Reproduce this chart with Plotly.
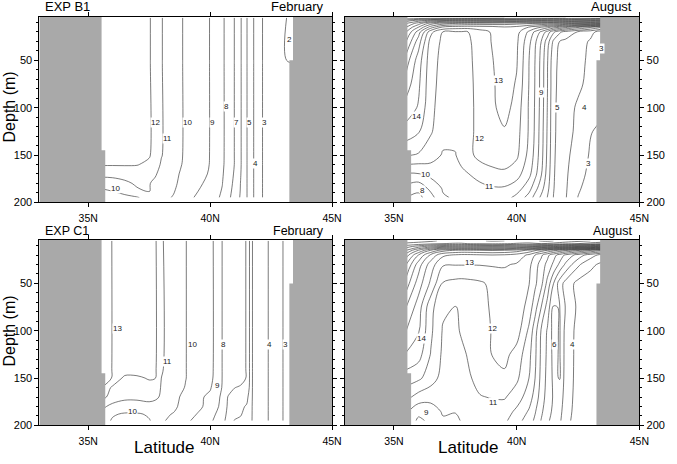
import plotly.graph_objects as go

# ---------------- data ----------------
lat = [35.5, 36.0, 36.5, 37.0, 37.5, 37.75, 38.0, 38.5, 39.0, 39.5, 40.0,
       40.5, 40.75, 41.0, 41.25, 41.5, 41.75, 42.0, 42.5, 43.0, 43.5]

# EXP B1 February
feb_b1_depth = [5, 50, 55, 150, 160, 170, 180, 188, 195]
feb_b1_temp = [
    [12.6, 12.6, 12.55, 12.5, 12.1, 11.6, 11.05, 10.45, 9.85, 9.4, 8.98, 8.15, 7.65, 6.98, 6.1, 5.05, 4.15, 3.15, 2.65, 2.15, 1.6],
    [12.6, 12.6, 12.55, 12.5, 12.1, 11.6, 11.05, 10.45, 9.85, 9.4, 8.98, 8.15, 7.65, 6.98, 6.1, 5.05, 4.15, 3.15, 2.65, 2.15, 1.6],
    [12.6, 12.6, 12.55, 12.5, 12.1, 11.6, 11.05, 10.45, 9.85, 9.4, 8.98, 8.15, 7.65, 6.98, 6.1, 5.05, 4.15, 3.15, 2.65, 2.3, 2.2],
    [12.6, 12.6, 12.55, 12.5, 12.1, 11.6, 11.05, 10.45, 9.85, 9.4, 8.98, 8.15, 7.65, 6.98, 6.1, 5.05, 4.15, 3.15, 2.65, 2.3, 2.2],
    [12.1, 12.1, 12.1, 12.05, 11.8, 11.4, 10.9, 10.4, 9.81, 9.38, 8.97, 8.15, 7.6, 6.98, 6.1, 5.05, 4.15, 3.15, 2.65, 2.3, 2.2],
    [11.2, 11.2, 11.3, 11.5, 11.4, 11.1, 10.7, 10.25, 9.7, 9.35, 8.9, 8.1, 7.5, 6.9, 6.05, 5.05, 4.15, 3.15, 2.65, 2.3, 2.2],
    [10.6, 10.7, 10.85, 11.1, 11.05, 10.8, 10.4, 10.15, 9.65, 9.2, 8.7, 8.02, 7.4, 6.8, 5.98, 5.05, 4.15, 3.15, 2.65, 2.3, 2.2],
    [9.7, 10.02, 10.3, 10.9, 11.05, 10.7, 10.3, 10.05, 9.6, 9.02, 8.45, 7.95, 7.3, 6.7, 5.95, 5.05, 4.15, 3.15, 2.65, 2.3, 2.2],
    [9.5, 9.6, 9.75, 9.9, 10.4, 10.3, 10.2, 9.95, 9.5, 8.74, 8.3, 7.9, 7.2, 6.6, 5.9, 5.05, 4.15, 3.15, 2.65, 2.3, 2.2],
]
feb_b1_label_lat = [43.27, 37.76, 38.27, 39.07, 40.09, 40.68, 41.1, 41.61, 42.24, 41.87, 36.13]
feb_b1_label_depth = [28, 116, 133, 116, 116, 99, 116, 116, 116, 159, 185]
feb_b1_label_text = ["2", "12", "11", "10", "9", "8", "7", "5", "3", "4", "10"]

# EXP B1 August
aug_depth = [5, 8, 11, 15, 20, 30, 50, 75, 100, 125, 150, 170, 185, 195]
aug_b1_temp = [
    [25.0, 25.0, 24.8, 24.6, 24.5, 24.45, 24.4, 24.3, 24.2, 24.0, 23.8, 23.6, 23.5, 23.4, 23.3, 23.2, 23.1, 23.0, 22.8, 22.5, 22.2],
    [22.5, 21.5, 20.5, 20.0, 19.8, 19.75, 19.7, 19.6, 19.5, 19.4, 19.3, 19.1, 19.0, 18.9, 18.8, 18.7, 18.6, 18.5, 18.3, 18.0, 17.7],
    [21.0, 19.5, 17.5, 16.5, 16.0, 15.9, 15.8, 15.7, 15.6, 15.5, 15.3, 15.1, 15.0, 14.9, 14.8, 14.7, 14.5, 14.3, 14.0, 13.6, 13.2],
    [20.0, 18.0, 15.5, 13.8, 13.5, 13.45, 13.4, 13.5, 13.6, 13.9, 13.7, 12.95, 12.5, 12.0, 11.4, 10.6, 10.0, 9.3, 8.2, 7.2, 6.0],
    [19.0, 16.5, 13.3, 11.95, 11.9, 11.9, 11.95, 12.6, 13.1, 13.6, 13.4, 11.8, 10.8, 9.8, 8.6, 7.2, 6.2, 5.6, 4.9, 4.3, 3.5],
    [18.0, 15.5, 12.6, 11.8, 11.6, 11.6, 11.8, 12.5, 13.05, 13.5, 13.2, 11.3, 10.2, 9.0, 7.5, 5.8, 5.0, 4.8, 4.4, 3.9, 2.9],
    [16.5, 14.5, 12.4, 11.7, 11.5, 11.5, 11.75, 12.4, 12.95, 13.5, 13.1, 11.02, 9.98, 8.7, 7.1, 5.3, 4.8, 4.6, 4.3, 3.8, 2.9],
    [15.5, 14.2, 12.3, 11.65, 11.45, 11.45, 11.7, 12.35, 12.85, 13.5, 12.9, 10.98, 9.95, 8.65, 7.05, 5.25, 4.75, 4.5, 4.2, 3.7, 3.1],
    [14.6, 13.9, 12.2, 11.6, 11.4, 11.4, 11.7, 12.3, 12.8, 13.4, 12.6, 10.9, 9.9, 8.6, 6.98, 5.2, 4.7, 4.4, 3.85, 3.4, 3.2],
    [13.6, 13.1, 12.1, 11.4, 11.3, 11.4, 11.7, 12.3, 12.7, 12.9, 12.4, 10.9, 9.85, 8.5, 6.9, 5.2, 4.65, 4.3, 3.8, 3.05, 2.8],
    [12.1, 11.9, 11.5, 10.9, 10.95, 11.4, 11.7, 12.3, 12.5, 12.6, 12.2, 10.7, 9.7, 8.4, 6.8, 5.15, 4.6, 4.2, 3.6, 2.9, 2.7],
    [9.9, 9.95, 10.3, 10.5, 10.6, 10.75, 10.95, 11.4, 11.7, 11.8, 11.4, 10.3, 9.3, 8.1, 6.6, 5.1, 4.55, 4.15, 3.3, 2.8, 2.6],
    [8.7, 8.3, 9.3, 10.1, 10.3, 10.4, 10.5, 10.7, 10.9, 10.9, 10.5, 9.4, 8.4, 7.4, 6.3, 5.05, 4.5, 4.1, 3.1, 2.7, 2.55],
    [8.0, 7.7, 8.6, 9.9, 10.1, 10.2, 10.2, 10.4, 10.5, 10.4, 9.7, 8.6, 7.6, 6.8, 5.98, 4.98, 4.45, 4.05, 2.98, 2.6, 2.5],
]
aug_b1_label_lat = [39.24, 41.03, 41.65, 42.77, 35.93, 38.49, 42.91, 36.29, 38.91, 36.16, 43.44]
aug_b1_label_depth = [71, 84, 100, 100, 109, 133, 159, 171, 183, 188, 37]
aug_b1_label_text = ["13", "9", "5", "4", "14", "12", "3", "10", "11", "8", "3"]

# EXP C1 February
feb_c1_depth = [5, 140, 150, 160, 170, 180, 188, 195]
feb_c1_temp = [
    [13.3, 12.98, 12.8, 12.6, 12.4, 12.15, 11.1, 10.5, 10.02, 9.6, 9.35, 7.98, 7.8, 7.6, 7.3, 6.95, 4.9, 4.5, 3.85, 2.98, 2.7],
    [13.3, 12.98, 12.8, 12.6, 12.4, 12.15, 11.1, 10.5, 10.02, 9.6, 9.35, 7.98, 7.8, 7.6, 7.3, 6.95, 4.9, 4.5, 3.85, 2.98, 2.7],
    [13.2, 12.98, 11.7, 11.8, 12.1, 12.02, 11.0, 10.45, 10.02, 9.55, 9.3, 7.98, 7.8, 7.6, 7.3, 6.95, 4.9, 4.5, 3.85, 2.98, 2.7],
    [13.05, 11.8, 11.4, 11.5, 11.6, 11.7, 10.9, 10.4, 9.95, 9.4, 9.1, 7.95, 7.5, 7.02, 6.9, 6.8, 4.9, 4.5, 3.85, 2.98, 2.7],
    [12.4, 11.6, 11.2, 11.15, 11.2, 11.15, 10.9, 10.3, 9.7, 9.2, 8.8, 7.8, 6.9, 6.7, 6.6, 6.3, 4.9, 4.5, 3.85, 2.98, 2.7],
    [11.3, 10.7, 10.6, 10.7, 10.8, 10.7, 10.4, 10.2, 9.6, 9.2, 8.7, 7.7, 6.8, 6.5, 6.2, 5.9, 4.9, 4.5, 3.85, 2.98, 2.7],
    [10.8, 10.1, 9.9, 9.9, 10.1, 10.4, 10.2, 9.95, 9.4, 8.95, 8.4, 7.5, 6.7, 6.3, 6.05, 5.8, 4.9, 4.5, 3.85, 2.98, 2.7],
    [10.5, 9.9, 9.6, 9.7, 9.95, 10.2, 10.1, 9.8, 9.2, 8.7, 8.2, 7.3, 6.6, 5.95, 5.9, 5.7, 4.9, 4.5, 3.85, 2.98, 2.7],
]
feb_c1_label_lat = [36.2, 38.27, 39.27, 40.57, 42.44, 43.08, 40.31, 36.8]
feb_c1_label_depth = [98, 132, 115, 115, 115, 115, 158, 185]
feb_c1_label_text = ["13", "11", "10", "8", "4", "3", "9", "10"]

# EXP C1 August
aug_c1_temp = [
    [25.6, 25.4, 25.2, 24.8, 24.6, 24.6, 24.7, 24.9, 25.1, 25.0, 24.7, 24.6, 24.8, 25.1, 25.2, 25.0, 24.8, 24.6, 24.3, 24.0, 23.8],
    [24.8, 24.6, 24.3, 24.0, 23.9, 23.9, 24.0, 24.1, 24.2, 24.1, 23.9, 23.8, 23.9, 24.0, 23.9, 23.7, 23.5, 23.3, 23.0, 22.6, 22.2],
    [23.5, 22.5, 21.5, 21.0, 20.8, 20.7, 20.7, 20.8, 20.9, 20.8, 20.5, 20.2, 20.0, 19.8, 19.5, 19.2, 18.9, 18.6, 18.0, 17.4, 16.5],
    [22.0, 20.0, 18.0, 16.5, 16.0, 15.9, 15.9, 16.0, 16.1, 16.0, 15.6, 14.8, 14.2, 13.6, 13.0, 12.4, 11.8, 11.2, 10.2, 9.2, 8.0],
    [20.5, 18.0, 15.8, 14.2, 13.9, 13.8, 13.8, 13.9, 14.0, 13.9, 13.6, 12.8, 12.0, 11.2, 10.3, 9.4, 8.6, 7.8, 6.6, 5.5, 4.6],
    [19.0, 16.5, 14.5, 13.1, 13.05, 13.05, 13.05, 13.05, 13.1, 13.1, 12.9, 12.3, 11.4, 10.6, 9.7, 8.8, 7.8, 6.8, 5.2, 4.2, 3.8],
    [17.5, 15.5, 13.8, 11.9, 11.7, 11.65, 11.7, 11.85, 12.2, 12.5, 12.6, 12.05, 11.2, 10.3, 8.7, 7.02, 5.5, 4.6, 3.7, 3.6, 3.5],
    [16.0, 14.5, 12.3, 11.2, 10.97, 11.1, 11.35, 11.6, 12.15, 12.6, 12.7, 11.6, 10.4, 9.0, 7.6, 5.9, 6.05, 4.9, 3.8, 3.5, 3.4],
    [15.0, 14.1, 12.2, 10.9, 10.8, 11.1, 11.2, 11.6, 12.05, 12.5, 12.5, 10.8, 9.4, 7.9, 6.9, 5.6, 6.1, 4.6, 3.7, 3.4, 3.3],
    [13.9, 13.4, 11.95, 10.8, 10.6, 10.8, 11.05, 11.5, 12.02, 12.3, 11.6, 10.3, 9.2, 7.8, 6.8, 5.7, 6.1, 4.55, 3.7, 3.4, 3.3],
    [12.5, 12.2, 11.5, 10.6, 10.4, 10.5, 10.85, 11.3, 11.7, 11.8, 11.2, 10.0, 9.0, 7.7, 6.7, 5.8, 6.05, 4.5, 3.7, 3.4, 3.3],
    [11.3, 10.6, 10.3, 10.3, 10.2, 10.3, 10.5, 10.95, 11.05, 11.1, 10.5, 9.5, 8.6, 7.5, 6.6, 5.9, 5.7, 4.4, 3.7, 3.4, 3.3],
    [10.2, 9.3, 9.6, 10.1, 10.05, 10.1, 10.3, 10.6, 10.6, 10.5, 9.8, 8.9, 8.1, 7.2, 6.4, 5.8, 5.4, 4.3, 3.7, 3.4, 3.3],
    [9.8, 8.8, 9.2, 9.9, 9.8, 10.05, 10.2, 10.4, 10.4, 10.2, 9.4, 8.5, 7.8, 6.95, 6.2, 5.6, 5.2, 4.2, 3.7, 3.4, 3.3],
]
aug_c1_label_lat = [38.09, 39.03, 36.11, 41.53, 42.29, 39.07, 36.33]
aug_c1_label_depth = [28, 98, 108, 115, 115, 176, 186]
aug_c1_label_text = ["13", "12", "14", "6", "4", "11", "9"]

# coastlines (land outline of the section)
west_land_lat = [33.0, 35.55, 35.55, 35.7, 35.7, 33.0]
west_land_depth = [0, 0, 145, 145, 200, 200]
east_land_lat = [45.0, 43.4, 43.4, 43.25, 43.25, 45.0]
east_land_depth = [0, 0, 50, 50, 200, 200]

x_ticks = [35, 40, 45]
x_ticktext = ["35N", "40N", "45N"]
y_ticks = [50, 100, 150, 200]

panels = [
    dict(depth=feb_b1_depth, temp=feb_b1_temp, xd=[40 / 677, 337 / 677], yd=[1 - 205 / 464, 1 - 17 / 464], side="left",
         lab=(feb_b1_label_lat, feb_b1_label_depth, feb_b1_label_text)),
    dict(depth=aug_depth, temp=aug_b1_temp, xd=[350 / 677, 649 / 677], yd=[1 - 205 / 464, 1 - 17 / 464], side="right",
         lab=(aug_b1_label_lat, aug_b1_label_depth, aug_b1_label_text)),
    dict(depth=feb_c1_depth, temp=feb_c1_temp, xd=[40 / 677, 337 / 677], yd=[1 - 431 / 464, 1 - 243 / 464], side="left",
         lab=(feb_c1_label_lat, feb_c1_label_depth, feb_c1_label_text)),
    dict(depth=aug_depth, temp=aug_c1_temp, xd=[350 / 677, 649 / 677], yd=[1 - 431 / 464, 1 - 243 / 464], side="right",
         lab=(aug_c1_label_lat, aug_c1_label_depth, aug_c1_label_text)),
]

FONT = "Liberation Sans, Arial, sans-serif"
LAND = "#a9a9a9"
LINE = "#333333"

fig = go.Figure()
layout = {}
annotations = []
for i, p in enumerate(panels, start=1):
    sfx = "" if i == 1 else str(i)
    xa, ya = "x" + sfx, "y" + sfx
    fig.add_trace(go.Contour(
        x=lat, y=p["depth"], z=p["temp"], xaxis=xa, yaxis=ya,
        autocontour=False,
        contours=dict(start=2, end=26, size=1, coloring="lines", showlabels=False),
        colorscale=[[0, LINE], [1, LINE]], showscale=False,
        line=dict(width=0.65), hoverinfo="skip"))
    for lx, ly in ((west_land_lat, west_land_depth), (east_land_lat, east_land_depth)):
        fig.add_trace(go.Scatter(x=lx, y=ly, xaxis=xa, yaxis=ya, mode="lines",
                                 fill="toself", fillcolor=LAND, line=dict(width=0, color=LAND),
                                 hoverinfo="skip", showlegend=False))
    for lx, ly, lt in zip(*p["lab"]):
        annotations.append(dict(text=lt, x=lx, y=ly, xref=xa, yref=ya, showarrow=False,
                                xanchor="center", yanchor="middle", bgcolor="white", borderpad=0,
                                font=dict(size=8, family=FONT, color="#222")))
    layout["xaxis" + sfx] = dict(
        domain=p["xd"], anchor=ya, range=[33, 45], tickvals=x_ticks, ticktext=x_ticktext,
        ticks="outside", ticklen=4, tickcolor="black", showline=True, linecolor="black",
        linewidth=1, mirror="allticks", showgrid=False, zeroline=False, ticklabelstandoff=2,
        tickfont=dict(size=10.5, family=FONT, color="black"))
    layout["yaxis" + sfx] = dict(
        domain=p["yd"], anchor=xa, range=[200, 4], tickvals=y_ticks, side=p["side"],
        ticks="outside", ticklen=4, tickcolor="black", showline=True, linecolor="black",
        linewidth=1, mirror="allticks", showgrid=False, zeroline=False,
        minor=dict(dtick=10, tick0=0, ticks="outside", ticklen=2, tickcolor="black", showgrid=False),
        tickfont=dict(size=11, family=FONT, color="black"))


def ann(text, x, y, size, xanchor="center", angle=0):
    return dict(text=text, x=x, y=y, xref="paper", yref="paper", showarrow=False,
                xanchor=xanchor, yanchor="middle", textangle=angle,
                font=dict(size=size, family=FONT, color="black"))


annotations += [
    ann("EXP B1", 44 / 677, 1 - 7 / 464, 13, "left"),
    ann("February", 331 / 677, 1 - 7 / 464, 13, "right"),
    ann("August", 643 / 677, 1 - 7 / 464, 13, "right"),
    ann("EXP C1", 44 / 677, 1 - 234 / 464, 12.5, "left"),
    ann("February", 331 / 677, 1 - 234 / 464, 12.5, "right"),
    ann("August", 643 / 677, 1 - 234 / 464, 12.5, "right"),
    ann("Depth (m)", 10 / 677, 1 - 108 / 464, 16, angle=-90),
    ann("Depth (m)", 10 / 677, 1 - 335 / 464, 16, angle=-90),
    ann("Latitude", 167 / 677, 1 - 453 / 464, 17),
    ann("Latitude", 476 / 677, 1 - 453 / 464, 17),
]

fig.update_layout(
    width=677, height=464, margin=dict(l=0, r=0, t=0, b=0),
    paper_bgcolor="white", plot_bgcolor="white", showlegend=False,
    annotations=annotations, **layout)

fig.write_html("out.html")
